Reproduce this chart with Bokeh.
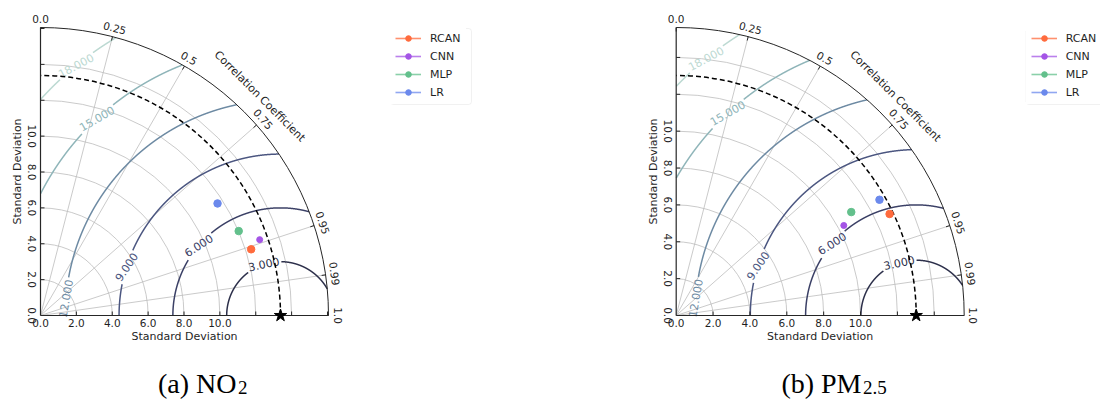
import numpy as np
from bokeh.plotting import figure
from bokeh.models import Range1d, Legend, LegendItem, Label, BoxAnnotation
from bokeh.layouts import row
from bokeh.embed import file_html
from bokeh.resources import INLINE
from bokeh.core.properties import value

# ---------------- data ----------------
models = ["RCAN", "CNN", "MLP", "LR"]
model_colors = ["#ff6b3d", "#a455e6", "#63c08c", "#6b89ec"]
model_sizes = [7.5, 6, 7.5, 7.5]

no2_ref_std = 13.38
no2_std = [12.31, 12.93, 12.01, 11.68]
no2_corr = [0.954, 0.945, 0.920, 0.845]

pm25_ref_std = 13.02
pm25_std = [12.82, 10.32, 11.03, 12.69]
pm25_corr = [0.903, 0.881, 0.861, 0.869]

std_tick_values = [0, 2, 4, 6, 8, 10]
std_tick_labels = ["0.0", "2.0", "4.0", "6.0", "8.0", "10.0"]
std_grid_values = [2, 4, 6, 8, 10, 12, 14]
cor_tick_values = [0.0, 0.25, 0.5, 0.75, 0.95, 0.99, 1.0]
cor_tick_labels = ["0.0", "0.25", "0.5", "0.75", "0.95", "0.99", "1.0"]
cor_grid_values = [0.25, 0.5, 0.75, 0.95, 0.99]
rms_levels = [3, 6, 9, 12, 15, 18]
rms_colors = ["#2c2f4a", "#3b4066", "#4b5680", "#6d8aa3", "#8fb5b9", "#bcd9d2"]

# label placement along each RMS contour (angle seen from the reference point, degrees)
rms_label_phi = [108, 139.5, 162.5, 175.5, 133, 129.3]
rms_label_rot = [12, 33, 56, 80, 30, 28]

W, H = 550, 400
R_PX = 288.0
OY = 85.0
FONT_NAME = "DejaVu Sans"
FONT = value(FONT_NAME)
SERIF = "Liberation Serif"
GRID = "#bdbdbd"
AX = "#262626"
TXT = "#1f1f1f"


def text_width(txt, fs):
    w = 0.0
    for ch in txt:
        w += 0.318 if ch == "." else 0.636
    return w * fs


def make_panel(ref_std, stds, corrs, ox, cap_main, cap_sub, cap_split):
    R = 1.2 * ref_std
    s = R_PX / R
    u = 1.0 / s
    p = figure(width=W, height=H,
               x_range=Range1d(-ox * u, (W - ox) * u),
               y_range=Range1d(-OY * u, (H - OY) * u),
               x_axis_type=None, y_axis_type=None,
               toolbar_location=None, output_backend="svg",
               min_border=0, outline_line_color=None)

    # std grid arcs
    p.arc(x=0, y=0, radius=std_grid_values, start_angle=0, end_angle=np.pi / 2,
          line_color=GRID, line_width=0.8)
    # correlation radial grid
    th = np.arccos(np.array(cor_grid_values))
    p.segment(x0=0, y0=0, x1=list(R * np.cos(th)), y1=list(R * np.sin(th)),
              line_color=GRID, line_width=0.8)

    # RMS contours
    for L, col, phl, rot in zip(rms_levels, rms_colors, rms_label_phi, rms_label_rot):
        phi = np.linspace(0, np.pi, 4000)
        x = ref_std + L * np.cos(phi)
        y = L * np.sin(phi)
        txt = f"{L:.3f}"
        half = (text_width(txt, 11) / 2 + 2) * u
        ok = (x >= 0) & (y >= 0) & (x ** 2 + y ** 2 <= R ** 2) & (np.abs(np.radians(phl) - phi) * L > half)
        xs, ys = [], []
        idx = np.where(ok)[0]
        if len(idx):
            breaks = np.where(np.diff(idx) > 1)[0]
            starts = np.concatenate([[0], breaks + 1])
            ends = np.concatenate([breaks, [len(idx) - 1]])
            for a, b in zip(starts, ends):
                seg = idx[a:b + 1]
                if len(seg) > 1:
                    xs.append(list(x[seg]))
                    ys.append(list(y[seg]))
        p.multi_line(xs=xs, ys=ys, line_color=col, line_width=1.5)
        pl = np.radians(phl)
        p.text(x=[ref_std + L * np.cos(pl)], y=[L * np.sin(pl)], text=[txt],
               angle=[np.radians(rot)], text_align="center", text_baseline="middle",
               text_font=FONT, text_font_size="11px", text_color=col)

    # reference std dashed arc
    p.arc(x=0, y=0, radius=ref_std, start_angle=0, end_angle=np.pi / 2,
          line_color="black", line_width=1.5, line_dash="5 3")

    # outer arc and axes
    p.arc(x=0, y=0, radius=R, start_angle=0, end_angle=np.pi / 2, line_color=AX, line_width=1)
    p.segment(x0=[0, 0], y0=[0, 0], x1=[R, 0], y1=[0, R], line_color=AX, line_width=1.2)

    # tick marks on the std axes
    tv = np.array(std_grid_values + [16] if R > 16 else std_grid_values, dtype=float)
    p.segment(x0=list(tv), y0=0, x1=list(tv), y1=4 * u, line_color=AX, line_width=1)
    p.segment(x0=0, y0=list(tv), x1=4 * u, y1=list(tv), line_color=AX, line_width=1)
    # tick marks on the correlation arc
    tc = np.arccos(np.array(cor_tick_values))
    p.segment(x0=list(R * np.cos(tc)), y0=list(R * np.sin(tc)),
              x1=list((R - 4 * u) * np.cos(tc)), y1=list((R - 4 * u) * np.sin(tc)),
              line_color=AX, line_width=1)

    # std tick labels
    p.text(x=std_tick_values, y=-3 * u, text=std_tick_labels, text_align="center",
           text_baseline="top", text_font=FONT, text_font_size="10.5px", text_color=TXT)
    p.text(x=-8.5 * u, y=std_tick_values, text=std_tick_labels, angle=-np.pi / 2,
           text_align="center", text_baseline="middle", text_font=FONT,
           text_font_size="10.5px", text_color=TXT)
    # correlation tick labels
    rl = R + 9 * u
    p.text(x=list(rl * np.cos(tc)), y=list(rl * np.sin(tc)), text=cor_tick_labels,
           angle=list(tc - np.pi / 2), text_align="center", text_baseline="middle",
           text_font=FONT, text_font_size="10.5px", text_color=TXT)
    rc = R + 22 * u
    p.text(x=[rc * np.cos(np.pi / 4)], y=[rc * np.sin(np.pi / 4)], text=["Correlation Coefficient"],
           angle=[-np.pi / 4], text_align="center", text_baseline="middle",
           text_font=FONT, text_font_size="11px", text_color=TXT)
    # axis titles
    p.text(x=[R / 2], y=[-21 * u], text=["Standard Deviation"], text_align="center",
           text_baseline="middle", text_font=FONT, text_font_size="11px", text_color=TXT)
    p.text(x=[-23 * u], y=[R / 2], text=["Standard Deviation"], angle=[np.pi / 2],
           text_align="center", text_baseline="middle", text_font=FONT,
           text_font_size="11px", text_color=TXT)

    # model points
    st = np.array(stds)
    cr = np.array(corrs)
    px = st * cr
    py = st * np.sin(np.arccos(cr))
    items = []
    for i, name in enumerate(models):
        lr = p.line(x=[px[i]], y=[py[i]], line_color=model_colors[i], line_width=1.6, line_alpha=0.75)
        sr = p.scatter(x=[px[i]], y=[py[i]], marker="circle", size=model_sizes[i],
                       fill_color=model_colors[i], line_color=model_colors[i])
        items.append(LegendItem(label=name, renderers=[lr, sr]))
    # reference star
    p.scatter(x=[ref_std], y=[0], marker="star", size=13, fill_color="black", line_color="black")

    lx = ox + 350
    leg = Legend(items=items, location=(lx, 296), padding=5, spacing=4,
                 label_text_font=FONT_NAME, label_text_font_size="11px", label_standoff=9,
                 glyph_width=26, glyph_height=14, label_height=14, margin=0,
                 label_text_color=TXT, border_line_alpha=0,
                 background_fill_color="white", background_fill_alpha=1)
    p.add_layout(leg)
    # rounded frame around the legend
    p.add_layout(BoxAnnotation(left=lx, right=lx + 81, bottom=296, top=372,
                               left_units="screen", right_units="screen",
                               bottom_units="screen", top_units="screen",
                               fill_alpha=0, line_color="#cfcfcf", line_width=1,
                               border_radius=3, level="overlay"))

    # caption: main words, then the subscript just after them
    p.add_layout(Label(x=cap_split, y=17, x_units="screen", y_units="screen", text=cap_main,
                       text_align="right", text_baseline="alphabetic",
                       text_font=SERIF, text_font_size="28px", text_color="black"))
    p.add_layout(Label(x=cap_split + 1.5, y=13, x_units="screen", y_units="screen", text=cap_sub,
                       text_align="left", text_baseline="alphabetic",
                       text_font=SERIF, text_font_size="19px", text_color="black"))
    return p


p1 = make_panel(no2_ref_std, no2_std, no2_corr, 40.0, "(a) NO", "2", 236)
p2 = make_panel(pm25_ref_std, pm25_std, pm25_corr, 125.7, "(b) PM", "2.5", 311)

layout = row(p1, p2)
open("out.html", "w").write(file_html(layout, INLINE))
